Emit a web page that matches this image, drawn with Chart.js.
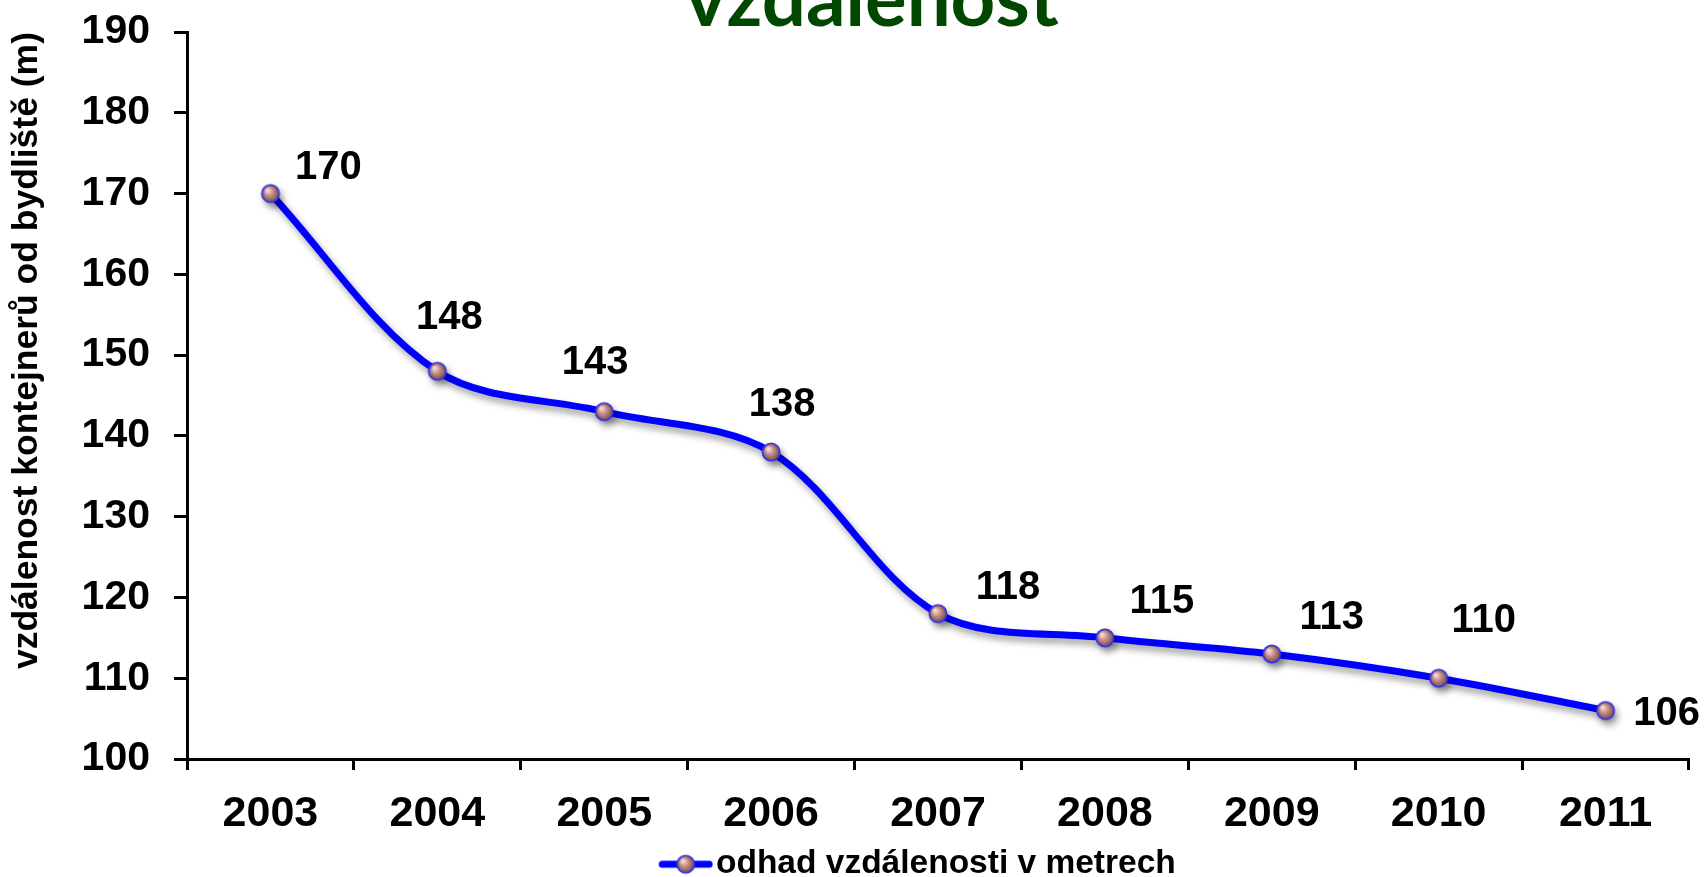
<!DOCTYPE html>
<html><head><meta charset="utf-8">
<script src="https://cdn.jsdelivr.net/npm/chart.js@4"></script>
<style>html,body{margin:0;padding:0;background:#fff;overflow:hidden}canvas{display:block}</style>
</head><body>
<canvas id="c" width="1706" height="877"></canvas>
<script>
const categories = ['2003', '2004', '2005', '2006', '2007', '2008', '2009', '2010', '2011'];
const distances = [170, 148, 143, 138, 118, 115, 113, 110, 106];
const seriesName = 'odhad vzdálenosti v metrech';
const chartTitle = 'vzdálenost';
const yAxisTitle = 'vzdálenost kontejnerů od bydliště (m)';
const yMin = 100, yMax = 190, yStep = 10;
const labelOffsets = [[58, -26], [12, -53], [-9, -49], [11, -47], [70, -26], [57, -36], [60, -36], [45, -57], [61, 3]];

Chart.defaults.font.family = '"Liberation Sans", Arial, sans-serif';

function drawBall(ctx, cx, cy, r) {
  const g = ctx.createRadialGradient(cx - r * 0.35, cy - r * 0.4, r * 0.1, cx, cy, r);
  g.addColorStop(0, '#f3dcd6');
  g.addColorStop(0.45, '#c49088');
  g.addColorStop(1, '#7a4a48');
  ctx.beginPath();
  ctx.arc(cx, cy, r, 0, Math.PI * 2);
  ctx.fillStyle = g;
  ctx.fill();
  ctx.lineWidth = 1.6;
  ctx.strokeStyle = '#3030f0';
  ctx.stroke();
}
const pointImg = document.createElement('canvas');
pointImg.width = 24; pointImg.height = 24;
drawBall(pointImg.getContext('2d'), 12, 12, 8.7);

const legendImg = document.createElement('canvas');
legendImg.width = 159; legendImg.height = 24;
(function () {
  const c = legendImg.getContext('2d');
  c.strokeStyle = '#0000ff'; c.lineWidth = 7; c.lineCap = 'round';
  c.beginPath(); c.moveTo(108, 12); c.lineTo(155, 12); c.stroke();
  drawBall(c, 131.5, 12, 8.7);
})();

const lineShadow = {
  id: 'lineShadow',
  beforeDatasetDraw(chart) {
    const c = chart.ctx;
    c.save();
    c.shadowColor = 'rgba(0,0,0,0.38)';
    c.shadowBlur = 7;
    c.shadowOffsetX = 3;
    c.shadowOffsetY = 5;
  },
  afterDatasetDraw(chart) { chart.ctx.restore(); }
};

const valueLabels = {
  id: 'valueLabels',
  afterDatasetsDraw(chart) {
    const ctx = chart.ctx;
    const meta = chart.getDatasetMeta(0);
    ctx.save();
    ctx.font = 'bold 40px "Liberation Sans", Arial, sans-serif';
    ctx.fillStyle = '#000';
    ctx.textAlign = 'center';
    ctx.textBaseline = 'middle';
    meta.data.forEach((pt, i) => {
      const o = labelOffsets[i];
      ctx.fillText(String(distances[i]), pt.x + o[0], pt.y + o[1]);
    });
    ctx.restore();
  }
};

new Chart(document.getElementById('c'), {
  type: 'line',
  data: {
    labels: categories,
    datasets: [{
      label: seriesName,
      data: distances,
      borderColor: '#0000ff',
      borderWidth: 7,
      tension: 0.33,
      fill: false,
      pointStyle: pointImg,
      pointRadius: 10,
      pointHoverRadius: 10,
      borderCapStyle: 'round',
      borderJoinStyle: 'round'
    }]
  },
  options: {
    responsive: false,
    animation: false,
    layout: { padding: { left: 54, right: 16, top: 0, bottom: -14 } },
    plugins: {
      title: {
        display: true, text: chartTitle, color: '#004700',
        font: { family: 'Lato', weight: 'bold', size: 78, lineHeight: 1 },
        padding: { top: -38, bottom: -8 }
      },
      legend: {
        display: true, position: 'bottom',
        labels: {
          usePointStyle: true, pointStyleWidth: 131, padding: 0, color: '#000',
          font: { size: 33.5, weight: 'bold' },
          generateLabels() {
            return [{ text: seriesName, pointStyle: legendImg, fillStyle: 'transparent', strokeStyle: 'transparent', lineWidth: 0, hidden: false, datasetIndex: 0, fontColor: '#000' }];
          }
        }
      },
      tooltip: { enabled: false }
    },
    scales: {
      x: {
        type: 'category', offset: true,
        grid: { offset: true, drawOnChartArea: false, drawTicks: true, tickLength: 11, tickWidth: 3, tickColor: '#000', color: '#000' },
        border: { display: true, color: '#000', width: 3 },
        ticks: { color: '#000', padding: 18, font: { size: 43, weight: 'bold' }, maxRotation: 0, autoSkip: false },
        afterFit(s) { s.height = 88.5; }
      },
      y: {
        min: yMin, max: yMax,
        ticks: { stepSize: yStep, color: '#000', padding: 24, font: { size: 41, weight: 'bold' } },
        grid: { drawOnChartArea: false, drawTicks: true, tickLength: 13, tickWidth: 3, tickColor: '#000', color: '#000' },
        border: { display: true, color: '#000', width: 3 },
        title: { display: true, text: yAxisTitle, align: 'end', color: '#000', font: { size: 35.5, weight: 'bold' }, padding: { top: -48, bottom: 0 } },
        afterFit(s) { s.width = 133; s.paddingTop = 0; s.paddingBottom = 0; }
      }
    }
  },
  plugins: [lineShadow, valueLabels]
});
</script>
</body></html>
